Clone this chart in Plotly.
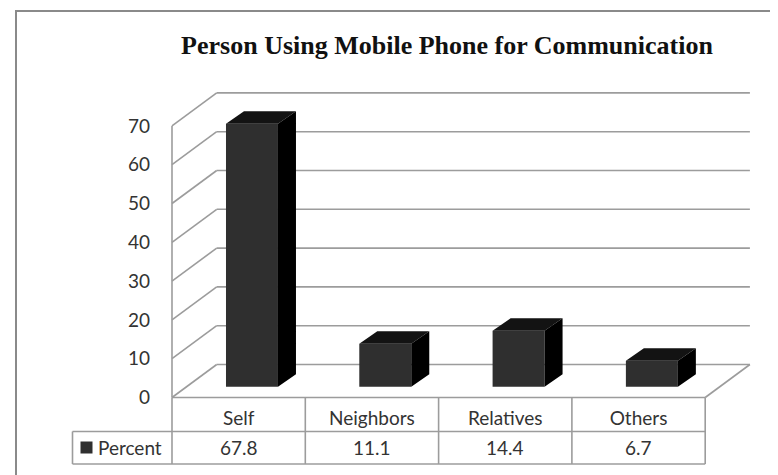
import plotly.graph_objects as go

# ---------------- data ----------------
categories = ["Self", "Neighbors", "Relatives", "Others"]
percent = [67.8, 11.1, 14.4, 6.7]
series_name = "Percent"
y_ticks = [0, 10, 20, 30, 40, 50, 60, 70]
chart_title = "Person Using Mobile Phone for Communication"

# ---------------- geometry (pixel -> data mapping) ----------------
OFF = 8                      # page body margin of the html page
W, H = 778 - OFF, 475 - OFF  # figure size
X0, PX = 172.0 - OFF, 133.3  # pixel x of category edge 0, px per category
Y0, PY = 397.5 - OFF, 3.88   # pixel y of value 0 on the front plane, px per value unit


def xr(px):
    """screen pixel (reference coords) -> data x"""
    return (px - OFF - X0) / PX


def yr(py):
    """screen pixel (reference coords) -> data y"""
    return (Y0 - (py - OFF)) / PY


n = len(categories)
DX, DY = 44.7 / PX, 33.0 / PY          # floor depth (oblique offset)
BAR_OFF, BAR_W = 0.405, 0.39            # bar front face offset / width (cat units)
BAR_BASE = 2.78                         # bar base on the floor (value units)
BDX, BDY = 18.0 / PX, 12.5 / PY         # bar depth offset

GRID = "#9c9c9c"
FRONT, TOP, SIDE = "#2f2f2f", "#131313", "#000000"
TXT = "#333333"
FONT = "Lato"

shapes = []


def seg(x0, y0, x1, y1, color=GRID, w=1.6):
    shapes.append(dict(type="line", xref="x", yref="y", x0=x0, y0=y0, x1=x1, y1=y1,
                       line=dict(color=color, width=w), layer="below"))


# walls: left-wall diagonals + back-wall horizontals
for t in y_ticks:
    seg(0, t, DX, t + DY)
    seg(DX, t + DY, n + DX, t + DY)
seg(0, 0, 0, y_ticks[-1])               # left wall front edge
seg(n, 0, n + DX, DY)                   # floor right edge

# data table
row1, row2 = yr(431.5), yr(464.0)
xL = xr(72.5)
seg(0, 0, n, 0)
seg(xL, row1, n, row1)
seg(xL, row2, n, row2)
seg(xL, row1, xL, row2)
for i in range(n + 1):
    seg(i, 0, i, row2)

# legend key square
shapes.append(dict(type="rect", xref="x", yref="y", x0=xr(80.5), x1=xr(92.5),
                   y0=yr(453.5), y1=yr(441.5), fillcolor=FRONT, line=dict(width=0)))

# outer chart border
shapes.append(dict(type="rect", xref="paper", yref="paper", x0=(16 - OFF) / W, y0=-0.05,
                   x1=1.05, y1=1 - (11 - OFF) / H, line=dict(color="#8a8a8a", width=2)))

fig = go.Figure()

xc = [i + BAR_OFF + BAR_W / 2 for i in range(n)]
fig.add_trace(go.Bar(x=xc, y=percent, base=[BAR_BASE] * n, width=BAR_W,
                     marker=dict(color=FRONT, line=dict(width=0)),
                     showlegend=False, hoverinfo="skip"))

# top and side faces from the values
tx, ty, sx, sy = [], [], [], []
for i, v in enumerate(percent):
    x0 = i + BAR_OFF
    x1 = x0 + BAR_W
    top = BAR_BASE + v
    tx += [x0, x1, x1 + BDX, x0 + BDX, x0, None]
    ty += [top, top, top + BDY, top + BDY, top, None]
    sx += [x1, x1 + BDX, x1 + BDX, x1, x1, None]
    sy += [BAR_BASE, BAR_BASE + BDY, top + BDY, top, BAR_BASE, None]
fig.add_trace(go.Scatter(x=tx, y=ty, mode="lines", fill="toself", fillcolor=TOP,
                         line=dict(width=0, color=TOP), showlegend=False, hoverinfo="skip"))
fig.add_trace(go.Scatter(x=sx, y=sy, mode="lines", fill="toself", fillcolor=SIDE,
                         line=dict(width=0, color=SIDE), showlegend=False, hoverinfo="skip"))

annotations = []
for i, v in enumerate(percent):
    annotations.append(dict(x=i + 0.5, y=yr(447.5), xref="x", yref="y", text=f"{v}",
                            showarrow=False, font=dict(family=FONT, size=19, color=TXT)))
annotations.append(dict(x=xr(96), y=yr(447.5), xref="x", yref="y", text=series_name,
                        xanchor="left", showarrow=False,
                        font=dict(family=FONT, size=19, color=TXT)))

fig.update_layout(
    width=W, height=H,
    margin=dict(l=0, r=0, t=0, b=0, pad=0),
    paper_bgcolor="white", plot_bgcolor="white",
    title=dict(text=chart_title, x=(447 - OFF) / W, y=1 - (45 - OFF) / H,
               xanchor="center", yanchor="middle",
               font=dict(family="Liberation Serif", size=26, color="#111111", weight=700)),
    xaxis=dict(range=[xr(OFF), xr(OFF + W)], showgrid=False, zeroline=False, showline=False,
               anchor="free", position=(H - (398 - OFF)) / H, side="bottom",
               tickvals=[i + 0.5 for i in range(n)], ticktext=categories, ticks="",
               ticklabelstandoff=7, tickfont=dict(family=FONT, size=19, color=TXT)),
    yaxis=dict(range=[yr(OFF + H), yr(OFF)], showgrid=False, zeroline=False, showline=False,
               anchor="free", position=X0 / W, tickvals=y_ticks, ticks="",
               ticklabelstandoff=22, tickfont=dict(family=FONT, size=19, color=TXT)),
    shapes=shapes, annotations=annotations,
)

fig.write_html("out.html")
